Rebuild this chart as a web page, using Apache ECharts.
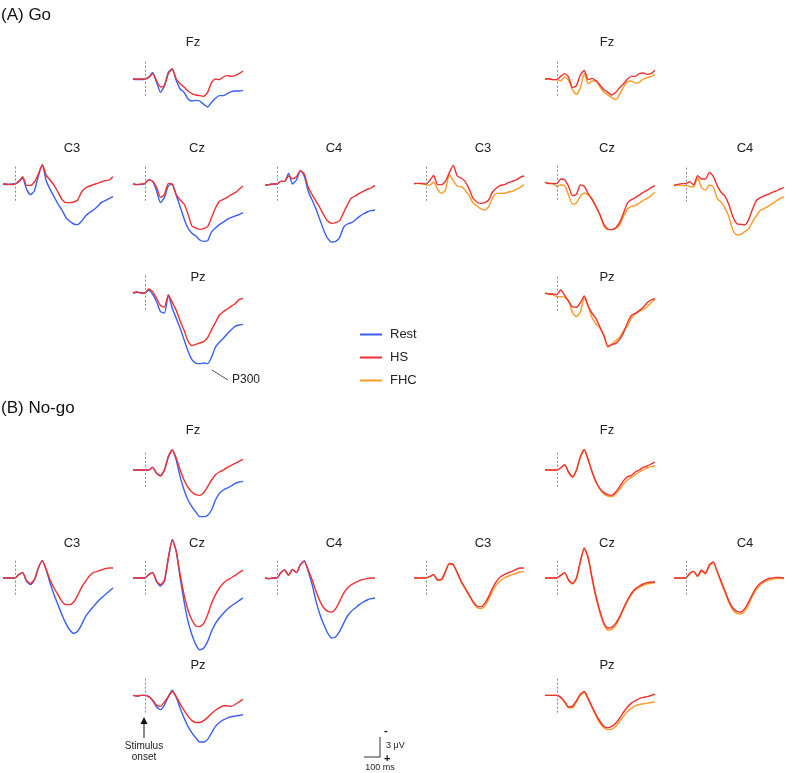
<!DOCTYPE html>
<html>
<head>
<meta charset="utf-8">
<script src="https://cdn.jsdelivr.net/npm/echarts@6/dist/echarts.min.js"></script>
<style>
  html, body { margin: 0; padding: 0; background: #fff; }
  #chart { width: 787px; height: 773px; }
</style>
</head>
<body>
<div id="chart"></div>
<script>
// time points (ms), 25 ms steps
var times = [-75,-50,-25,0,25,50,75,100,125,150,175,200,225,250,275,300,325,350,375,400,425,450,475,500,525,550,575,600,625];

// amplitudes in µV, positive plotted downward
// ---- (A) Go, Rest vs HS ----
var goFzRest = [0,0.1,0.1,0,-0.3,-1.0,0.5,2.0,1.0,-1.0,-1.5,0.2,1.5,2.0,3.0,3.3,3.2,3.3,3.8,4.2,3.5,2.9,2.5,2.5,2.2,1.9,1.8,1.8,1.7];
var goFzHS   = [0,0,0,0,-0.2,-0.8,0.3,1.2,1.0,-0.8,-1.5,0,0.7,1.2,1.8,2.2,2.4,2.5,2.6,2.0,0.5,0,0.1,-0.3,-0.5,-0.4,-0.5,-0.8,-1.2];
var goC3Rest = [0,0.1,0,0,-0.3,-0.9,0.8,1.6,1.0,-1.2,-2.9,-0.5,0.8,1.9,3.0,3.9,5.0,5.6,6.0,6.1,5.6,4.8,4.3,3.9,3.4,2.8,2.5,2.2,1.9];
var goC3HS   = [0,0,0.1,0,-0.4,-1.1,0.2,0.2,-0.3,-1.5,-2.9,-1.3,-0.6,0.2,1.2,2.3,2.8,2.8,2.7,2.4,1.2,0.6,0.3,0.1,-0.1,-0.3,-0.5,-0.6,-1.1];
var goCzRest = [0,0.1,0.1,0,-0.6,-0.4,1.0,2.8,2.0,0.3,0,1.7,3.4,5.2,6.6,7.4,7.8,8.4,8.6,8.5,7.2,6.6,6.1,5.7,5.3,5.0,4.8,4.6,4.3];
var goCzHS   = [0,0.1,0,-0.1,-0.6,-0.4,0.5,2.0,1.6,-0.1,0.1,1.6,2.4,3.0,4.5,6.3,6.6,6.8,6.7,6.4,5.0,3.6,2.6,2.3,2.0,1.6,1.3,0.8,0.3];
var goC4Rest = [0.2,0.1,0,0,-0.4,-0.4,-1.6,0,-0.6,-2.0,-1.2,1.1,2.4,3.8,5.4,7.0,8.2,8.7,8.6,8.0,6.5,6.0,5.8,5.4,4.9,4.5,4.2,4.0,3.9];
var goC4HS   = [0.2,0.1,0,0,-0.4,-0.4,-1.2,-0.8,-1.1,-2.0,-1.5,0.5,1.6,2.6,3.6,4.7,5.6,5.9,5.8,5.5,4.3,3.1,2.1,1.8,1.4,1.1,0.8,0.6,0.2];
var goPzRest = [0,-0.1,0,0,-0.4,0.2,1.3,2.8,3.0,0.3,2.3,3.8,5.3,7.0,8.7,10.0,10.5,10.6,10.5,10.6,9.6,8.1,7.4,6.8,6.1,5.5,5.0,4.8,4.7];
var goPzHS   = [0,-0.2,0,0,-0.6,-0.2,0.8,1.9,2.1,0.3,1.4,2.6,4.2,5.6,7.2,7.9,7.7,7.5,7.3,6.7,5.5,4.4,3.3,2.8,2.4,2.0,1.6,1.0,0.8];

// ---- (A) Go, HS vs FHC ----
var goFzHS2  = [0,0,0.1,0.1,-0.4,-0.8,-0.3,1.3,1.0,-0.6,-1.3,0.1,-0.1,0.3,0.9,1.6,2.0,2.4,2.0,1.3,0.7,0,-0.4,-0.4,-0.8,-0.9,-0.7,-0.8,-1.3];
var goFzFHC  = [0,-0.1,0.1,0.1,0.3,-0.3,0.2,1.6,2.3,1.3,-0.8,0.7,0.3,0.3,1.2,2.0,2.4,2.8,3.1,2.3,1.2,0.4,0.3,0.6,0.5,0,-0.2,-0.4,-0.6];
var goC3HS2  = [-0.1,-0.1,-0.1,0,-0.5,-1.3,0.1,0.1,-0.4,-1.7,-2.8,-1.2,-0.9,-0.4,0.7,2.1,2.7,2.9,2.8,2.4,1.2,0.6,0.2,0.1,-0.2,-0.4,-0.6,-1.0,-1.2];
var goC3FHC  = [0,-0.1,0,0.1,0.2,-0.3,0.8,1.4,0.9,-1.4,-0.5,0.3,0.4,0.9,1.7,2.8,3.3,3.7,3.9,3.4,2.1,1.4,1.4,1.4,1.2,1.1,0.8,0.5,0.1];
var goCzHS2  = [-0.1,0.1,0.1,0.1,-0.6,-0.5,0.5,1.9,1.7,0.3,0.5,1.6,2.5,3.6,4.8,6.2,6.9,7.0,6.7,5.9,4.5,3.0,2.5,2.2,1.8,1.4,1.1,0.7,0.4];
var goCzFHC  = [-0.1,0,0.1,0.5,0.3,0.4,1.8,3.2,3.0,2.0,1.5,1.8,2.4,3.5,4.8,6.5,7.0,7.0,6.8,6.3,5.0,3.9,3.5,3.4,3.0,2.6,2.3,1.9,1.4];
var goC4HS2  = [0.1,-0.1,-0.2,-0.2,-0.5,0,-1.4,-0.9,-0.9,-1.9,-1.3,0.1,1.1,1.7,3.0,4.8,5.8,5.9,6.0,5.2,3.6,2.3,1.9,1.6,1.4,1.1,0.9,0.6,0.4];
var goC4FHC  = [-0.1,0,0.1,0.1,0.2,0.3,-1.1,0.4,0.8,0,0.3,2.0,2.6,3.5,4.8,6.8,7.5,7.4,7.0,6.6,5.5,4.6,3.8,3.5,3.2,2.8,2.4,2.0,1.8];
var goPzHS2  = [-0.1,0,0,0.1,-0.6,0.2,1.1,1.9,2.0,1.3,0.3,1.8,2.9,3.7,5.0,6.3,7.8,7.6,7.4,6.8,5.8,4.3,3.2,2.9,2.5,2.0,1.3,0.9,0.7];
var goPzFHC  = [-0.2,0,0.1,0.4,0.4,0.5,1.0,2.8,3.4,2.7,0.6,1.9,3.6,4.5,5.1,6.2,8.0,7.5,7.0,6.5,5.5,4.8,3.6,3.0,2.6,2.3,1.9,1.3,0.7];

// ---- (B) No-go, Rest vs HS ----
var ngFzRest = [0,0,0,0,0,-0.4,0.5,0.8,0,-2.0,-3.0,-1.5,1.0,3.0,4.5,5.5,6.3,7.0,7.0,6.8,6.0,4.5,3.5,3.0,2.7,2.4,2.0,1.8,1.7];
var ngFzHS   = [0,0,0,0,0,-0.4,0.5,0.9,0,-2.0,-3.0,-1.8,0,1.5,2.6,3.3,3.7,3.8,3.4,2.5,1.5,0.7,0.3,0,-0.4,-0.7,-1.0,-1.3,-1.6];
var ngC3Rest = [0,0,0,0,-0.5,-0.8,0.5,1.0,0.3,-1.5,-2.6,-1.2,0.8,2.5,4.0,5.5,6.8,7.8,8.3,8.0,7.0,5.8,5.0,4.3,3.6,3.0,2.5,2.0,1.5];
var ngC3HS   = [0,0,0,0,-0.5,-0.8,0.4,0.8,0.2,-1.5,-2.6,-1.3,0.3,1.5,2.5,3.5,4.0,4.0,3.6,2.6,1.4,0.5,-0.3,-0.8,-1.0,-1.2,-1.4,-1.5,-1.5];
var ngCzRest = [0,0,0,0,-0.5,-0.8,0.5,1.2,0.5,-3.0,-5.8,-4.0,0,3.5,6.5,8.5,10.0,10.8,10.5,9.5,8.0,6.8,6.0,5.3,4.7,4.2,3.8,3.4,3.0];
var ngCzHS   = [0,0,0,0,-0.5,-0.8,0.5,1.0,0.3,-3.0,-5.7,-4.0,-0.5,2.5,4.8,6.3,7.2,7.3,6.8,5.5,3.8,2.5,1.5,0.8,0.3,0,-0.4,-0.8,-1.2];
var ngC4Rest = [0,0.1,0,0,-0.8,-1.2,-0.4,-1.3,-0.8,-2.0,-2.6,-1.0,1.0,3.5,5.5,7.0,8.3,9.0,8.8,8.0,6.8,5.7,5.0,4.5,4.0,3.6,3.3,3.1,3.0];
var ngC4HS   = [0,0.1,0,0,-0.8,-1.2,-0.4,-1.3,-0.8,-2.0,-2.5,-1.2,0.3,2.0,3.5,4.5,5.0,5.1,4.6,3.5,2.3,1.5,1.0,0.7,0.4,0.2,0.1,0,0];
var ngPzRest = [0,0.1,0,0,0.2,0.8,1.8,2.2,1.5,0.2,-0.8,0.3,2.0,3.5,4.8,5.8,6.6,7.2,7.2,6.8,5.8,4.8,4.2,3.8,3.5,3.3,3.2,3.1,3.0];
var ngPzHS   = [0,0.1,0,0,0.2,0.7,1.5,1.7,1.0,0.2,-0.6,0.2,1.3,2.3,3.2,3.9,4.2,4.2,3.9,3.4,2.8,2.3,1.9,1.6,1.6,1.7,1.4,1.0,0.6];

// ---- (B) No-go, HS vs FHC ----
var ngFzHS2  = [0,0,0,0,-0.3,-0.8,0.3,1.0,0,-2.0,-3.1,-1.5,0.3,1.8,2.8,3.4,3.7,3.8,3.3,2.5,1.6,1.0,0.8,0.3,0,-0.4,-0.6,-0.9,-1.2];
var ngFzFHC  = [0,0,0,0,-0.3,-0.8,0.4,1.1,0.1,-1.9,-3.0,-1.6,0.3,1.8,2.9,3.6,3.9,4.0,3.6,2.9,2.1,1.5,1.1,0.7,0.3,0,-0.3,-0.5,-0.6];
var ngC3HS2  = [0,0,0,0,-0.2,-0.5,0.3,0.2,-1.0,-2.2,-2.0,-0.8,0.5,1.5,2.5,3.5,4.2,4.3,3.8,2.8,1.5,0.5,-0.2,-0.5,-0.8,-1.0,-1.3,-1.5,-1.5];
var ngC3FHC  = [0,0,0,0,-0.2,-0.5,0.3,0.3,-0.9,-2.1,-2.0,-0.8,0.5,1.6,2.6,3.6,4.4,4.6,4.2,3.2,2.0,1.0,0.4,0,-0.3,-0.5,-0.7,-0.9,-1.0];
var ngCzHS2  = [0,0,0,0,-0.4,-0.8,0.3,0.8,0,-2.5,-4.5,-3.0,0,2.8,5.0,6.8,7.5,7.4,6.8,5.8,4.5,3.3,2.3,1.6,1.2,0.9,0.7,0.6,0.6];
var ngCzFHC  = [0,0,0,0,-0.4,-0.8,0.3,0.9,0.1,-2.4,-4.4,-3.0,0.2,3.0,5.3,7.0,7.8,7.7,7.1,6.0,4.7,3.5,2.5,1.8,1.4,1.1,0.9,0.8,0.7];
var ngC4HS2  = [0,0,0,0,-0.7,-1.0,-0.3,-1.2,-0.7,-2.0,-2.4,-1.0,0.5,2.0,3.5,4.5,5.0,5.1,4.6,3.6,2.4,1.4,0.8,0.4,0.1,0,-0.1,-0.1,0];
var ngC4FHC  = [0,0,0,0,-0.6,-1.0,-0.2,-1.0,-0.6,-1.8,-2.3,-0.9,0.7,2.2,3.7,4.8,5.3,5.4,5.0,4.0,2.7,1.7,1.0,0.6,0.3,0.2,0.1,0.1,0.1];
var ngPzHS2  = [0,0,0,0,0.3,1.0,1.8,1.7,0.8,-0.2,-0.6,0.5,1.8,3.0,4.0,4.8,5.0,4.8,4.3,3.5,2.6,1.8,1.2,0.8,0.5,0.3,0.2,0,-0.2];
var ngPzFHC  = [0,0,0,0,0.3,1.0,1.9,1.9,1.0,0,-0.4,0.6,1.9,3.2,4.3,5.0,5.3,5.2,4.8,4.0,3.2,2.5,2.0,1.6,1.4,1.3,1.2,1.1,1.0];

var colors = { Rest: '#3a5ff0', HS: '#ee3030', FHC: '#fb9a26' };

// layout: panel left edge, baseline y, title position
var panels = [
  {label:'Fz', x:133, base:79,  tx:193, ty:42,  lines:[['Rest',goFzRest],['HS',goFzHS]]},
  {label:'C3', x:3,   base:184, tx:72,  ty:148, lines:[['Rest',goC3Rest],['HS',goC3HS]]},
  {label:'Cz', x:133, base:184, tx:197, ty:148, lines:[['Rest',goCzRest],['HS',goCzHS]]},
  {label:'C4', x:265, base:184, tx:334, ty:148, lines:[['Rest',goC4Rest],['HS',goC4HS]]},
  {label:'Pz', x:133, base:293, tx:198, ty:277, lines:[['Rest',goPzRest],['HS',goPzHS]]},
  {label:'Fz', x:545, base:79,  tx:607, ty:42,  lines:[['FHC',goFzFHC],['HS',goFzHS2]]},
  {label:'C3', x:414, base:184, tx:483, ty:148, lines:[['FHC',goC3FHC],['HS',goC3HS2]]},
  {label:'Cz', x:545, base:183, tx:607, ty:148, lines:[['FHC',goCzFHC],['HS',goCzHS2]]},
  {label:'C4', x:674, base:185, tx:745, ty:148, lines:[['FHC',goC4FHC],['HS',goC4HS2]]},
  {label:'Pz', x:545, base:294, tx:607, ty:277, lines:[['FHC',goPzFHC],['HS',goPzHS2]]},

  {label:'Fz', x:133, base:470, tx:193, ty:430, lines:[['Rest',ngFzRest],['HS',ngFzHS]]},
  {label:'C3', x:3,   base:578, tx:72,  ty:543, lines:[['Rest',ngC3Rest],['HS',ngC3HS]]},
  {label:'Cz', x:133, base:578, tx:197, ty:543, lines:[['Rest',ngCzRest],['HS',ngCzHS]]},
  {label:'C4', x:265, base:578, tx:334, ty:543, lines:[['Rest',ngC4Rest],['HS',ngC4HS]]},
  {label:'Pz', x:133, base:697, tx:198, ty:665, lines:[['Rest',ngPzRest],['HS',ngPzHS]]},
  {label:'Fz', x:545, base:470, tx:607, ty:430, lines:[['FHC',ngFzFHC],['HS',ngFzHS2]]},
  {label:'C3', x:414, base:578, tx:483, ty:543, lines:[['FHC',ngC3FHC],['HS',ngC3HS2]]},
  {label:'Cz', x:545, base:578, tx:607, ty:543, lines:[['FHC',ngCzFHC],['HS',ngCzHS2]]},
  {label:'C4', x:674, base:578, tx:745, ty:543, lines:[['FHC',ngC4FHC],['HS',ngC4HS2]]},
  {label:'Pz', x:545, base:697, tx:607, ty:665, lines:[['FHC',ngPzFHC],['HS',ngPzHS2]]}
];

var Y_MIN = -8, Y_MAX = 12, PX_PER_UV = 6.667;
var FONT = '"Liberation Sans", Arial, sans-serif';

var grids = [], xAxes = [], yAxes = [], series = [], graphics = [];

panels.forEach(function (p, i) {
  grids.push({left: p.x, top: p.base + Y_MIN * PX_PER_UV, width: 110, height: (Y_MAX - Y_MIN) * PX_PER_UV});
  xAxes.push({type: 'value', gridIndex: i, min: -75, max: 625, show: false});
  yAxes.push({type: 'value', gridIndex: i, min: Y_MIN, max: Y_MAX, inverse: true, show: false});
  p.lines.forEach(function (ln, k) {
    var s = {
      name: ln[0],
      type: 'line',
      xAxisIndex: i,
      yAxisIndex: i,
      showSymbol: false,
      smooth: 0.2,
      silent: true,
      lineStyle: {width: 1.4, color: colors[ln[0]]},
      itemStyle: {color: colors[ln[0]]},
      data: times.map(function (t, j) { return [t, ln[1][j]]; })
    };
    if (k === 0) {
      // stimulus onset
      s.markLine = {
        silent: true,
        symbol: ['none', 'none'],
        label: {show: false},
        lineStyle: {type: [2, 2], color: '#888', width: 1},
        data: [[{coord: [0, -2.6]}, {coord: [0, 2.8]}]]
      };
    }
    series.push(s);
  });
  graphics.push({type: 'text', style: {x: p.tx, y: p.ty, text: p.label, textAlign: 'center', align: 'center',
    textVerticalAlign: 'middle', verticalAlign: 'middle', font: '13px ' + FONT, fill: '#222'}});
});

// section headers
graphics.push({type: 'text', style: {x: 1, y: 15, text: '(A) Go', textVerticalAlign: 'middle', verticalAlign: 'middle', font: '17px ' + FONT, fill: '#111'}});
graphics.push({type: 'text', style: {x: 1, y: 408, text: '(B) No-go', textVerticalAlign: 'middle', verticalAlign: 'middle', font: '17px ' + FONT, fill: '#111'}});

// P300 annotation
graphics.push({type: 'line', shape: {x1: 212, y1: 370, x2: 228, y2: 380}, style: {stroke: '#555', lineWidth: 1}});
graphics.push({type: 'text', style: {x: 232, y: 380, text: 'P300', textVerticalAlign: 'middle', verticalAlign: 'middle', font: '12px ' + FONT, fill: '#222'}});

// stimulus onset arrow
graphics.push({type: 'line', shape: {x1: 144, y1: 738, x2: 144, y2: 722}, style: {stroke: '#111', lineWidth: 1}});
graphics.push({type: 'polygon', shape: {points: [[140.5, 724], [147.5, 724], [144, 717]]}, style: {fill: '#111'}});
graphics.push({type: 'text', style: {x: 144, y: 746, text: 'Stimulus', textAlign: 'center', align: 'center', textVerticalAlign: 'middle', verticalAlign: 'middle', font: '10px ' + FONT, fill: '#222'}});
graphics.push({type: 'text', style: {x: 144, y: 757, text: 'onset', textAlign: 'center', align: 'center', textVerticalAlign: 'middle', verticalAlign: 'middle', font: '10px ' + FONT, fill: '#222'}});

// scale bar
graphics.push({type: 'polyline', shape: {points: [[364, 757], [380, 757], [380, 737]]}, style: {stroke: '#333', lineWidth: 1, fill: null}});
graphics.push({type: 'text', style: {x: 384, y: 731, text: '-', textVerticalAlign: 'middle', verticalAlign: 'middle', font: 'bold 11px ' + FONT, fill: '#111'}});
graphics.push({type: 'text', style: {x: 386, y: 746, text: '3 \u03bcV', textVerticalAlign: 'middle', verticalAlign: 'middle', font: '9px ' + FONT, fill: '#222'}});
graphics.push({type: 'text', style: {x: 384, y: 759, text: '+', textVerticalAlign: 'middle', verticalAlign: 'middle', font: 'bold 11px ' + FONT, fill: '#111'}});
graphics.push({type: 'text', style: {x: 380, y: 768, text: '100 ms', textAlign: 'center', align: 'center', textVerticalAlign: 'middle', verticalAlign: 'middle', font: '9px ' + FONT, fill: '#222'}});

var chart = echarts.init(document.getElementById('chart'));
chart.setOption({
  animation: false,
  backgroundColor: '#fff',
  legend: {
    data: ['Rest', 'HS', 'FHC'],
    orient: 'vertical',
    left: 355,
    top: 323,
    itemWidth: 22,
    itemHeight: 2,
    itemGap: 10,
    icon: 'rect',
    selectedMode: false,
    textStyle: {fontSize: 13, fontFamily: FONT, color: '#222', padding: [0, 0, 0, 3]}
  },
  grid: grids,
  xAxis: xAxes,
  yAxis: yAxes,
  series: series,
  graphic: graphics
});
</script>
</body>
</html>
